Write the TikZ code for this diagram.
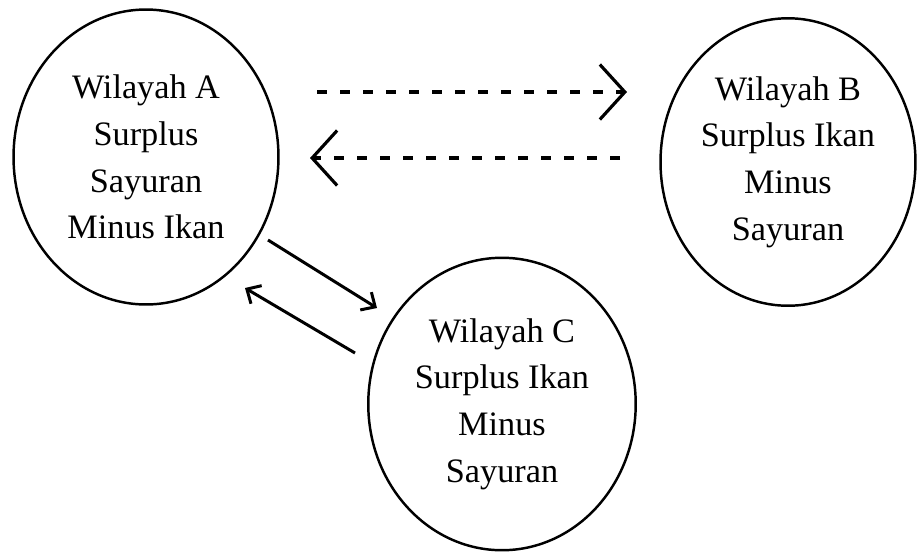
\documentclass[tikz,border=0pt]{standalone}
\usepackage{fontspec}
\setmainfont{Liberation Serif}
\usetikzlibrary{shapes.geometric,arrows.meta}

\begin{document}
\begin{tikzpicture}[x=0.02cm,y=-0.02cm,
      wilayah/.style={draw,ellipse,line width=1.4pt,inner sep=0pt,align=center,
        font=\fontsize{19.5}{26.5}\selectfont},
      alur/.style={line width=1.7pt,-{Straight Barb[length=0.22cm,width=0.42cm]}},
      alurputus/.style={line width=1.8pt,dash pattern=on 5.7pt off 7.4pt,
        -{Straight Barb[length=0.5cm,width=1.1cm]}}]
    \useasboundingbox (0,0) rectangle (917,552);
    \node[wilayah,minimum width=5.3cm,minimum height=5.9cm] (wilA) at (146,157)
      {Wilayah A\\Surplus\\Sayuran\\Minus Ikan};
    \node[wilayah,minimum width=5.1cm,minimum height=5.75cm] (wilB) at (788,162)
      {Wilayah B\\Surplus Ikan\\Minus\\Sayuran};
    \node[wilayah,minimum width=5.35cm,minimum height=5.85cm] (wilC) at (502,404)
      {Wilayah C\\Surplus Ikan\\Minus\\Sayuran};
    % ujung panah
    \coordinate (ab1) at (317,92);
    \coordinate (ab2) at (627,92);
    \coordinate (ba1) at (620,158);
    \coordinate (ba2) at (310,158);
    \coordinate (ac1) at (268,240);
    \coordinate (ac2) at (377,308);
    \coordinate (ca1) at (355,353);
    \coordinate (ca2) at (245,288);
    \draw[alurputus] (ab1) -- (ab2);
    \draw[alurputus] (ba1) -- (ba2);
    \draw[alur] (ac1) -- (ac2);
    \draw[alur] (ca1) -- (ca2);
  \end{tikzpicture}
\end{document}
